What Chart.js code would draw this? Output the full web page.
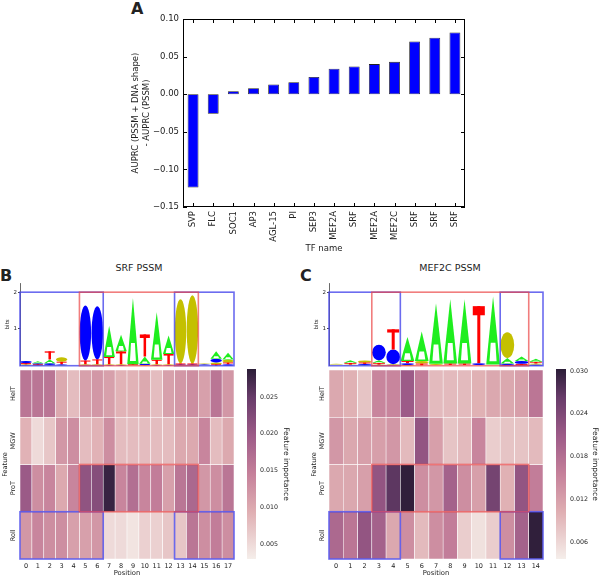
<!DOCTYPE html>
<html>
<head>
<meta charset="utf-8">
<title>AUPRC difference and feature importance</title>
<script src="https://cdn.jsdelivr.net/npm/chart.js@4.4.1/dist/chart.umd.min.js"></script>
<style>
  body { margin: 0; background: #fff; width: 600px; height: 577px; position: relative; overflow: hidden; font-family: 'DejaVu Sans', sans-serif; color: #222; }
  .pane { position: absolute; }
  .letter { position: absolute; font-weight: bold; font-size: 16px; line-height: 16px; }
  .title { position: absolute; font-size: 9.5px; line-height: 10px; transform: translateX(-50%); white-space: nowrap; }
</style>
</head>
<body>
<div class="letter" style="left:131px;top:1px">A</div>
<div class="letter" style="left:0px;top:268px">B</div>
<div class="letter" style="left:300px;top:268px">C</div>
<div class="title" style="left:139px;top:263px">SRF PSSM</div>
<div class="title" style="left:450px;top:263px">MEF2C PSSM</div>

<div class="pane" style="left:120px;top:0px"><canvas id="chartA" width="360" height="270"></canvas></div>
<div class="pane" style="left:0px;top:275px"><canvas id="logoB" width="250" height="95"></canvas></div>
<div class="pane" style="left:0px;top:365px"><canvas id="heatB" width="245" height="212"></canvas></div>
<div class="pane" style="left:240px;top:360px"><canvas id="barB" width="60" height="217"></canvas></div>
<div class="pane" style="left:309px;top:275px"><canvas id="logoC" width="240" height="95"></canvas></div>
<div class="pane" style="left:309px;top:365px"><canvas id="heatC" width="240" height="212"></canvas></div>
<div class="pane" style="left:549px;top:360px"><canvas id="barC" width="51" height="217"></canvas></div>

<script>
// ---- Panel A data ----
const tfNames = ['SVP', 'FLC', 'SOC1', 'AP3', 'AGL-15', 'PI', 'SEP3', 'MEF2A', 'SRF', 'MEF2A', 'MEF2C', 'SRF', 'SRF', 'SRF'];
const auprcDiff = [-0.124, -0.026, 0.004, 0.008, 0.013, 0.016, 0.023, 0.034, 0.037, 0.040, 0.043, 0.070, 0.075, 0.082];

// ---- Heatmap data (feature importance) ----
const featureNames = ['HelT', 'MGW', 'ProT', 'Roll'];
const positionsB = ['0', '1', '2', '3', '4', '5', '6', '7', '8', '9', '10', '11', '12', '13', '14', '15', '16', '17'];
const helTB = [0.016, 0.016, 0.016, 0.010, 0.008, 0.011, 0.012, 0.011, 0.009, 0.009, 0.010, 0.008, 0.011, 0.012, 0.013, 0.011, 0.016, 0.012];
const mgwB  = [0.009, 0.005, 0.007, 0.012, 0.013, 0.008, 0.009, 0.013, 0.008, 0.008, 0.008, 0.008, 0.008, 0.010, 0.010, 0.014, 0.008, 0.010];
const proTB = [0.020, 0.013, 0.014, 0.010, 0.014, 0.021, 0.022, 0.028, 0.014, 0.017, 0.014, 0.015, 0.011, 0.016, 0.018, 0.012, 0.013, 0.016];
const rollB = [0.012, 0.014, 0.013, 0.013, 0.011, 0.011, 0.012, 0.005, 0.005, 0.004, 0.006, 0.006, 0.007, 0.007, 0.016, 0.013, 0.015, 0.013];
const colorTicksB = [0.005, 0.010, 0.015, 0.020, 0.025];
const rangeB = [0.003, 0.0288];

const positionsC = ['0', '1', '2', '3', '4', '5', '6', '7', '8', '9', '10', '11', '12', '13', '14'];
const helTC = [0.011, 0.010, 0.008, 0.015, 0.015, 0.021, 0.016, 0.009, 0.009, 0.009, 0.010, 0.011, 0.011, 0.012, 0.017];
const mgwC  = [0.013, 0.011, 0.012, 0.012, 0.013, 0.009, 0.022, 0.012, 0.008, 0.009, 0.015, 0.007, 0.008, 0.008, 0.009];
const proTC = [0.011, 0.011, 0.012, 0.022, 0.027, 0.030, 0.014, 0.013, 0.020, 0.014, 0.012, 0.025, 0.010, 0.022, 0.016];
const rollC = [0.019, 0.017, 0.022, 0.020, 0.011, 0.014, 0.009, 0.014, 0.016, 0.007, 0.005, 0.007, 0.014, 0.020, 0.030];
const colorTicksC = [0.006, 0.012, 0.018, 0.024, 0.030];
const rangeC = [0.0036, 0.0303];

// ---- Sequence logo heights (bits) ----
const logoB_A = [0.02, 0.05, 0.10, 0.02, 0.01, 0.02, 0.02, 0.85, 0.45, 1.80, 0.20, 1.30, 0.50, 0.02, 0.02, 0.01, 0.20, 0.18];
const logoB_C = [0.06, 0.03, 0.05, 0.02, 0.01, 1.50, 1.45, 0.02, 0.02, 0.01, 0.03, 0.02, 0.02, 0.02, 0.02, 0.02, 0.10, 0.04];
const logoB_G = [0.02, 0.02, 0.02, 0.12, 0.01, 0.02, 0.02, 0.02, 0.02, 0.01, 0.02, 0.02, 0.02, 1.75, 1.86, 0.02, 0.05, 0.08];
const logoB_T = [0.03, 0.02, 0.22, 0.07, 0.01, 0.10, 0.13, 0.20, 0.35, 0.02, 0.60, 0.12, 0.28, 0.02, 0.02, 0.01, 0.04, 0.05];

const logoC_A = [0.01, 0.07, 0.02, 0.07, 0.02, 0.65, 0.80, 1.65, 1.75, 1.75, 0.01, 1.85, 0.15, 0.12, 0.08];
const logoC_C = [0.01, 0.01, 0.03, 0.42, 0.40, 0.05, 0.01, 0.01, 0.01, 0.01, 0.05, 0.01, 0.04, 0.08, 0.03];
const logoC_G = [0.02, 0.02, 0.05, 0.03, 0.02, 0.02, 0.07, 0.03, 0.01, 0.01, 0.01, 0.01, 0.70, 0.02, 0.03];
const logoC_T = [0.01, 0.05, 0.04, 0.05, 0.55, 0.06, 0.05, 0.01, 0.04, 0.04, 1.55, 0.01, 0.02, 0.03, 0.05];

// highlighted regions: [row, first position, last position, colour]
const boxesB = [['Roll', 0, 6, 'blue'], ['Roll', 13, 17, 'blue'], ['ProT', 5, 14, 'red']];
const boxesC = [['Roll', 0, 4, 'blue'], ['Roll', 12, 14, 'blue'], ['ProT', 3, 13, 'red']];

// ---- styles ----
const boxColors = { blue: 'rgba(70, 70, 235, 0.8)', red: 'rgba(235, 70, 70, 0.7)' };
const glyphColors = { A: '#1fee1f', C: '#0000ff', G: '#c4c000', T: '#ff0000' };
const cmapStops = [[0, '#f5eeea'], [0.25, '#dfaeb2'], [0.45, '#c5809a'], [0.65, '#9d5b88'], [0.85, '#683c6a'], [1, '#2b1d37']];

Chart.defaults.font.family = "'DejaVu Sans', sans-serif";
Chart.defaults.color = '#222';
Chart.defaults.animation = false;
Chart.defaults.plugins.legend.display = false;
Chart.defaults.plugins.tooltip.enabled = false;

function hexToRgb(h) {
    return [parseInt(h.slice(1, 3), 16), parseInt(h.slice(3, 5), 16), parseInt(h.slice(5, 7), 16)];
}

function cmap(t) {
    t = Math.max(0, Math.min(1, t));
    for (let i = 1; i < cmapStops.length; i++) {
        if (t <= cmapStops[i][0]) {
            const [t0, c0] = cmapStops[i - 1];
            const [t1, c1] = cmapStops[i];
            const f = (t - t0) / (t1 - t0);
            const a = hexToRgb(c0), b = hexToRgb(c1);
            const mix = a.map((v, k) => Math.round(v + (b[k] - v) * f));
            return `rgb(${mix[0]}, ${mix[1]}, ${mix[2]})`;
        }
    }
    return cmapStops[cmapStops.length - 1][1];
}

// Frame with inward ticks (matplotlib classic look)
const framePlugin = {
    id: 'frame',
    afterDraw(chart) {
        const { ctx, chartArea: a, scales: { x, y } } = chart;
        ctx.save();
        ctx.strokeStyle = '#000';
        ctx.lineWidth = 1;
        ctx.strokeRect(a.left + 0.5, a.top + 0.5, a.width - 1, a.height - 1);
        ctx.beginPath();
        x.ticks.forEach((t, i) => {
            const px = Math.round(x.getPixelForTick(i)) + 0.5;
            ctx.moveTo(px, a.bottom); ctx.lineTo(px, a.bottom - 4);
            ctx.moveTo(px, a.top); ctx.lineTo(px, a.top + 4);
        });
        y.ticks.forEach(t => {
            const py = Math.round(y.getPixelForValue(t.value)) + 0.5;
            ctx.moveTo(a.left, py); ctx.lineTo(a.left + 4, py);
            ctx.moveTo(a.right, py); ctx.lineTo(a.right - 4, py);
        });
        ctx.stroke();
        ctx.restore();
    }
};

function fmtA(v) {
    if (Math.abs(v) < 1e-9) v = 0;
    return v.toFixed(2).replace('-', '\u2212');
}

// Panel A
new Chart(document.getElementById('chartA'), {
    type: 'bar',
    data: {
        labels: tfNames,
        datasets: [{
            data: auprcDiff,
            backgroundColor: '#0000ff',
            borderColor: '#222',
            borderWidth: 0.8,
            borderSkipped: false,
            categoryPercentage: 1,
            barPercentage: 0.54
        }]
    },
    options: {
        responsive: false,
        layout: { padding: { top: 19, right: 15, left: 0, bottom: 0 } },
        scales: {
            x: {
                grid: { display: false, drawTicks: false },
                border: { display: false },
                ticks: { minRotation: 90, maxRotation: 90, autoSkip: false, padding: 4, font: { size: 8.5 } },
                title: { display: true, text: 'TF name', font: { size: 8.5 }, padding: { top: 0, bottom: 16 } },
                afterFit: s => { s.height = 63; }
            },
            y: {
                min: -0.15,
                max: 0.10,
                grid: { display: false, drawTicks: false },
                border: { display: false },
                ticks: { stepSize: 0.05, padding: 4, font: { size: 8.5 }, callback: v => fmtA(v) },
                title: {
                    display: true,
                    text: ['AUPRC (PSSM + DNA shape)', '- AUPRC (PSSM)'],
                    font: { size: 8.5 },
                    padding: { top: 11 }
                },
                afterFit: s => { s.width = 63; }
            }
        }
    },
    plugins: [framePlugin]
});

function strokeBoxes(ctx, x, boxes, rowTop, rowBottom) {
    const step = x.getPixelForValue(1) - x.getPixelForValue(0);
    ['blue', 'red'].forEach(col => {
        boxes.filter(b => b[3] === col).forEach(b => {
            const left = x.getPixelForValue(b[1]) - step / 2;
            const right = x.getPixelForValue(b[2]) + step / 2;
            const top = rowTop(b[0]), bot = rowBottom(b[0]);
            ctx.strokeStyle = boxColors[col];
            ctx.lineWidth = 1.6;
            ctx.strokeRect(left, top, right - left, bot - top);
        });
    });
}

// Heatmap decorations: highlight boxes + rotated row labels
const heatDecor = {
    id: 'heatDecor',
    afterDatasetsDraw(chart, args, opts) {
        const { ctx, scales: { x, y } } = chart;
        ctx.save();
        strokeBoxes(ctx, x, opts.boxes,
            row => y.getPixelForValue(featureNames.indexOf(row)),
            row => y.getPixelForValue(featureNames.indexOf(row) + 1));
        ctx.fillStyle = '#222';
        ctx.font = "6.5px 'DejaVu Sans', sans-serif";
        ctx.textAlign = 'center';
        ctx.textBaseline = 'middle';
        featureNames.forEach((name, r) => {
            ctx.save();
            ctx.translate(y.right - 7, y.getPixelForValue(r + 0.5));
            ctx.rotate(-Math.PI / 2);
            ctx.fillText(name, 0, 0);
            ctx.restore();
        });
        ctx.restore();
    }
};

function heatmap(id, positions, rows, range, boxes, padRight) {
    new Chart(document.getElementById(id), {
        type: 'bar',
        data: {
            labels: positions,
            datasets: featureNames.map((name, r) => ({
                label: name,
                data: rows[r].map(() => 1),
                backgroundColor: rows[r].map(v => cmap((v - range[0]) / (range[1] - range[0]))),
                borderColor: '#fff',
                borderWidth: 0.6,
                borderSkipped: false,
                categoryPercentage: 1,
                barPercentage: 1
            }))
        },
        options: {
            responsive: false,
            layout: { padding: { top: 5, right: padRight, left: 0, bottom: 0 } },
            plugins: { heatDecor: { boxes: boxes } },
            scales: {
                x: {
                    stacked: true,
                    grid: { display: false, drawTicks: false },
                    border: { display: false },
                    ticks: { padding: 3, font: { size: 6.5 }, autoSkip: false, maxRotation: 0 },
                    title: { display: true, text: 'Position', font: { size: 6.8 }, padding: { top: 0, bottom: 0 } },
                    afterFit: s => { s.height = 18; }
                },
                y: {
                    stacked: true,
                    min: 0,
                    max: 4,
                    reverse: true,
                    grid: { display: false, drawTicks: false },
                    border: { display: false },
                    ticks: { display: false },
                    title: { display: true, text: 'Feature', font: { size: 6.5 }, padding: { top: 1 } },
                    afterFit: s => { s.width = 20; }
                }
            }
        },
        plugins: [heatDecor]
    });
}

function drawGlyph(ctx, base, x0, x1, yTop, yBot) {
    const w = x1 - x0, h = yBot - yTop, xm = (x0 + x1) / 2;
    if (h < 0.4) return;
    ctx.fillStyle = glyphColors[base];
    if (base === 'C' || base === 'G') {
        ctx.beginPath();
        ctx.ellipse(xm, (yTop + yBot) / 2, w / 2, h / 2, 0, 0, 2 * Math.PI);
        ctx.fill();
    } else if (base === 'T') {
        ctx.fillRect(x0 + w * 0.06, yTop, w * 0.88, Math.max(h * 0.16, 1));
        ctx.fillRect(xm - w * 0.11, yTop, w * 0.22, h);
    } else {
        ctx.beginPath();
        ctx.moveTo(x0, yBot); ctx.lineTo(xm, yTop); ctx.lineTo(x1, yBot);
        ctx.closePath();
        ctx.fill();
        // inner white hollow of the "A", closed by a thin bar at the foot
        ctx.fillStyle = '#fff';
        ctx.beginPath();
        ctx.moveTo(x0 + w * 0.24, yBot - h * 0.05);
        ctx.lineTo(x0 + w * 0.33, yBot - h * 0.32);
        ctx.lineTo(x1 - w * 0.33, yBot - h * 0.32);
        ctx.lineTo(x1 - w * 0.24, yBot - h * 0.05);
        ctx.closePath();
        ctx.fill();
    }
}

// Sequence logo: stack glyphs per position, smallest at the bottom
const logoGlyphs = {
    id: 'logoGlyphs',
    afterDatasetsDraw(chart, args, opts) {
        const { ctx, scales: { x, y } } = chart;
        const step = x.getPixelForValue(1) - x.getPixelForValue(0);
        const ds = chart.data.datasets;
        ctx.save();
        chart.data.labels.forEach((lab, i) => {
            const stack = ds.map(d => ({ base: d.label, h: d.data[i] })).sort((a, b) => a.h - b.h);
            const cx = x.getPixelForValue(i);
            let acc = 0;
            stack.forEach(s => {
                const yb = y.getPixelForValue(acc);
                acc += s.h;
                drawGlyph(ctx, s.base, cx - step * 0.48, cx + step * 0.48, y.getPixelForValue(acc), yb);
            });
        });
        strokeBoxes(ctx, x, opts.boxes, () => y.getPixelForValue(2), () => y.getPixelForValue(0));
        ctx.restore();
    }
};

function logo(id, positions, heights, boxes, padRight) {
    new Chart(document.getElementById(id), {
        type: 'bar',
        data: {
            labels: positions,
            datasets: ['A', 'C', 'G', 'T'].map((b, k) => ({
                label: b,
                data: heights[k],
                backgroundColor: 'rgba(0,0,0,0)',
                borderWidth: 0
            }))
        },
        options: {
            responsive: false,
            layout: { padding: { top: 8, right: padRight, left: 0, bottom: 3 } },
            plugins: { logoGlyphs: { boxes: boxes } },
            scales: {
                x: { stacked: true, display: false },
                y: {
                    stacked: true,
                    min: 0,
                    max: 2.25,
                    afterBuildTicks: s => { s.ticks = [{ value: 1 }, { value: 2 }]; },
                    grid: { display: true, drawOnChartArea: false, tickLength: 2, color: '#444' },
                    border: { display: true, color: '#444', width: 0.8 },
                    ticks: { padding: 1, font: { size: 5.5 } },
                    title: { display: true, text: 'bits', font: { size: 5.5 }, padding: { top: 4 } },
                    afterFit: s => { s.width = 20; }
                }
            }
        },
        plugins: [logoGlyphs]
    });
}

function gradientFor(chart) {
    const a = chart.chartArea;
    if (!a) return null;
    const g = chart.ctx.createLinearGradient(0, a.bottom, 0, a.top);
    cmapStops.forEach(([t, c]) => g.addColorStop(t, c));
    return g;
}

function colorbar(id, range, ticks, axisWidth, titlePad) {
    new Chart(document.getElementById(id), {
        type: 'bar',
        data: {
            labels: [''],
            datasets: [{
                data: [range],
                backgroundColor: c => gradientFor(c.chart),
                borderWidth: 0,
                categoryPercentage: 1,
                barPercentage: 1
            }]
        },
        options: {
            responsive: false,
            layout: { padding: { top: 9, right: 0, left: 7, bottom: 18 } },
            scales: {
                x: { display: false },
                y: {
                    position: 'right',
                    min: range[0],
                    max: range[1],
                    afterBuildTicks: s => { s.ticks = ticks.map(v => ({ value: v })); },
                    grid: { display: false, drawTicks: false },
                    border: { display: false },
                    ticks: { padding: 4, font: { size: 6.3 }, callback: v => v.toFixed(3) },
                    title: { display: true, text: 'Feature importance', font: { size: 7.5 }, padding: { top: titlePad } },
                    afterFit: s => { s.width = axisWidth; }
                }
            }
        }
    });
}

logo('logoB', positionsB, [logoB_A, logoB_C, logoB_G, logoB_T], boxesB, 16);
heatmap('heatB', positionsB, [helTB, mgwB, proTB, rollB], rangeB, boxesB, 11);
colorbar('barB', rangeB, colorTicksB, 44, 10);

logo('logoC', positionsC, [logoC_A, logoC_C, logoC_G, logoC_T], boxesC, 6);
heatmap('heatC', positionsC, [helTC, mgwC, proTC, rollC], rangeC, boxesC, 6);
colorbar('barC', rangeC, colorTicksC, 34, 0.5);
</script>
</body>
</html>
